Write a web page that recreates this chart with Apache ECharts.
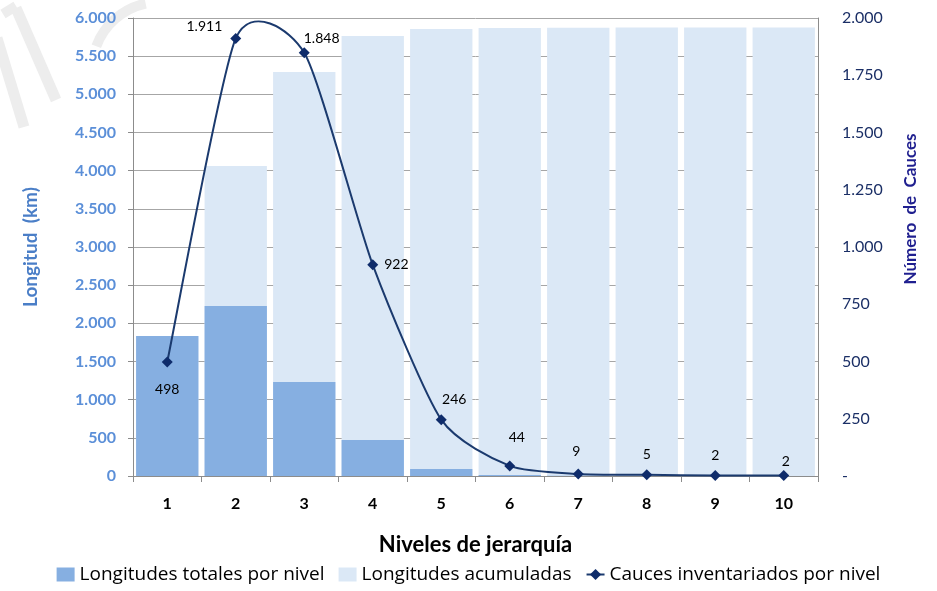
<!DOCTYPE html>
<html>
<head>
<meta charset="utf-8">
<script src="https://cdn.jsdelivr.net/npm/echarts@6/dist/echarts.min.js"></script>
<style>
html,body{margin:0;padding:0;background:#fff;}
#chart{width:937px;height:591px;}
</style>
</head>
<body>
<div id="chart"></div>
<script>
var categories = ['1','2','3','4','5','6','7','8','9','10'];
var longitudesTotales = [1834, 2227, 1231, 472, 92, 14, 3, 2, 1, 1];
var longitudesAcumuladas = [1834, 4061, 5292, 5764, 5856, 5870, 5873, 5875, 5876, 5877];
var caucesInventariados = [498, 1911, 1848, 922, 246, 44, 9, 5, 2, 2];
var leftTicks = [0, 6000, 500];
var rightTicks = [0, 2000, 250];

function fmtThousands(v){
  return String(v).replace(/\B(?=(\d{3})+(?!\d))/g, '.');
}

var labelPos = [
  {position:'bottom', distance:15},
  {position:'left', offset:[0,-12], distance:8},
  {position:'right', offset:[-8,-14], distance:2},
  {position:'right', distance:6},
  {position:'top', offset:[13,0], distance:8},
  {position:'top', offset:[7,0], distance:16},
  {position:'top', offset:[-2,0], distance:10},
  {position:'top', offset:[0,0], distance:8},
  {position:'top', offset:[0,0], distance:8},
  {position:'top', offset:[2,0], distance:2}
];

var lineData = caucesInventariados.map(function(v,i){
  var lp = labelPos[i];
  var lab = {show:true, position:lp.position, distance:lp.distance};
  if (lp.offset) lab.offset = lp.offset;
  return {value:v, label:lab};
});

// smooth spline (Excel-like cardinal curve) through the data points
function curveRenderItem(params, api){
  if (params.dataIndex !== 0) return;
  var pts = caucesInventariados.map(function(v,i){ return api.coord([i, v]); });
  var k = 0.11;
  var n = pts.length;
  var d = 'M' + pts[0][0] + ' ' + pts[0][1];
  for (var i = 0; i < n - 1; i++){
    var p0 = pts[Math.max(i-1,0)], p1 = pts[i], p2 = pts[i+1], p3 = pts[Math.min(i+2,n-1)];
    var c1x = p1[0] + (p2[0]-p0[0])*k, c1y = p1[1] + (p2[1]-p0[1])*k;
    var c2x = p2[0] - (p3[0]-p1[0])*k, c2y = p2[1] - (p3[1]-p1[1])*k;
    d += ' C' + c1x + ' ' + c1y + ' ' + c2x + ' ' + c2y + ' ' + p2[0] + ' ' + p2[1];
  }
  return {
    type:'path',
    shape:{pathData:d},
    style:{stroke:'#1b3a6e', lineWidth:2, fill:null},
    silent:true
  };
}

var chart = echarts.init(document.getElementById('chart'), null, {renderer:'canvas'});
var option = {
  animation:false,
  backgroundColor:'#ffffff',
  textStyle:{fontFamily:'Lato, "Open Sans", sans-serif'},
  graphic:[
    {type:'line', z:-10, shape:{x1:16,y1:8,x2:56,y2:100}, style:{stroke:'#ededed', lineWidth:11}},
    {type:'line', z:-10, shape:{x1:3,y1:14,x2:16,y2:6}, style:{stroke:'#ededed', lineWidth:10}},
    {type:'line', z:-10, shape:{x1:-3,y1:38,x2:24,y2:127}, style:{stroke:'#ededed', lineWidth:11}},
    {type:'arc', z:-10, shape:{cx:160,cy:70,r:68,startAngle:3.5,endAngle:4.5}, style:{stroke:'#ededed', lineWidth:10, fill:null}}
  ],
  grid:{left:133, right:119, top:18, bottom:115, containLabel:false},
  legend:{
    bottom:2,
    left:'center',
    itemGap:14,
    itemWidth:18,
    itemHeight:14,
    data:[
      {name:'Longitudes totales por nivel', icon:'rect'},
      {name:'Longitudes acumuladas', icon:'rect'},
      {name:'Cauces inventariados por nivel', lineStyle:{color:'#1b3a6e', width:2, opacity:1}}
    ],
    textStyle:{fontFamily:'"Liberation Sans Narrow", "Open Sans", sans-serif', fontSize:19, color:'#000'}
  },
  xAxis:{
    type:'category',
    data:categories,
    name:'Niveles de jerarquía',
    nameLocation:'middle',
    nameGap:58,
    nameTextStyle:{fontSize:22, fontWeight:'bold', color:'#000'},
    axisLine:{lineStyle:{color:'#8c8c8c'}},
    axisTick:{show:true, length:6, lineStyle:{color:'#8c8c8c'}},
    axisLabel:{fontSize:16, fontWeight:'bold', color:'#000', margin:20}
  },
  yAxis:[
    {
      type:'value',
      min:leftTicks[0], max:leftTicks[1], interval:leftTicks[2],
      name:'Longitud  (km)',
      nameLocation:'middle',
      nameRotate:90,
      nameGap:93,
      nameTextStyle:{fontSize:19, fontWeight:'bold', color:'#4a7ec7'},
      axisLine:{show:true, lineStyle:{color:'#8c8c8c'}},
      axisTick:{show:true, length:5, lineStyle:{color:'#8c8c8c'}},
      axisLabel:{fontSize:16, fontWeight:'bold', color:'#5b8fd8', margin:17, formatter:fmtThousands},
      splitLine:{show:true, lineStyle:{color:'#a6a6a6'}}
    },
    {
      type:'value',
      min:rightTicks[0], max:rightTicks[1], interval:rightTicks[2],
      name:'Número  de  Cauces',
      nameLocation:'middle',
      nameRotate:90,
      nameGap:84,
      nameTextStyle:{fontSize:17, fontWeight:'bold', color:'#1f1f8f', padding:[0,0,0,76]},
      axisLine:{show:true, lineStyle:{color:'#8c8c8c'}},
      axisTick:{show:false},
      axisLabel:{fontSize:16, color:'#1b2f66', margin:24, formatter:function(v){return v===0?'-':fmtThousands(v);}},
      splitLine:{show:false}
    }
  ],
  series:[
    {
      name:'Longitudes acumuladas',
      type:'bar',
      data:longitudesAcumuladas,
      barWidth:'91%',
      barGap:'-100%',
      itemStyle:{color:'#dbe8f6'},
      z:2
    },
    {
      name:'Longitudes totales por nivel',
      type:'bar',
      data:longitudesTotales,
      barWidth:'91%',
      barGap:'-100%',
      itemStyle:{color:'#86afe1'},
      z:3
    },
    {
      name:'Cauces curve',
      type:'custom',
      yAxisIndex:1,
      data:[0],
      renderItem:curveRenderItem,
      silent:true,
      z:4
    },
    {
      name:'Cauces inventariados por nivel',
      type:'line',
      yAxisIndex:1,
      data:lineData,
      symbol:'diamond',
      symbolSize:11,
      lineStyle:{width:0, opacity:0},
      itemStyle:{color:'#0f2c6b'},
      label:{show:true, fontSize:14, color:'#000', formatter:function(p){return fmtThousands(p.value);}},
      z:5
    }
  ]
};
chart.setOption(option);
</script>
</body>
</html>
